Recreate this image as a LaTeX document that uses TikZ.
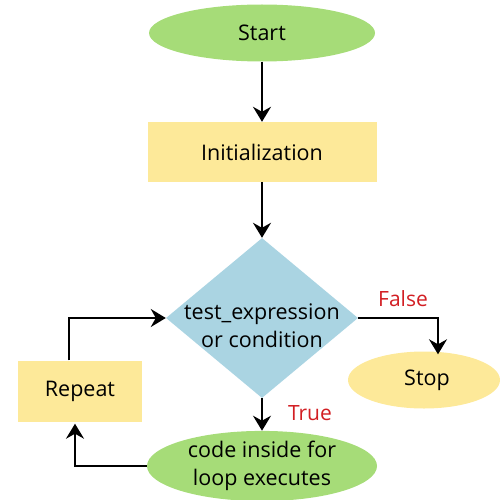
\documentclass[tikz,border=0pt]{standalone}
\usepackage{fontspec}
\setmainfont{Open Sans}
\usetikzlibrary{shapes.geometric,arrows.meta}
\definecolor{leaf}{RGB}{166,220,120}
\definecolor{sand}{RGB}{253,233,153}
\definecolor{sky}{RGB}{170,212,226}
\definecolor{lblred}{RGB}{210,30,35}
\tikzset{
  txt/.style={font=\fontsize{21.5}{28}\selectfont, align=center, text=black},
  oval/.style={ellipse, draw=none, inner sep=0pt, txt},
  boxx/.style={rectangle, draw=none, inner sep=0pt, txt},
  arr/.style={line width=2pt, -{Stealth[length=15pt,width=18pt,inset=5pt]}},
  lbl/.style={font=\fontsize{21}{24}\selectfont, text=lblred}
}
\begin{document}
\begin{tikzpicture}[x=1pt,y=-1pt]
\useasboundingbox (0,0) rectangle (500,500);
\node[oval, fill=leaf, minimum width=226pt, minimum height=57pt] (start) at (262,33) {Start};
\node[boxx, fill=sand, minimum width=229pt, minimum height=60pt] (init) at (262,152) {Initialization};
\node[diamond, fill=sky, draw=none, inner sep=0pt, minimum width=192pt, minimum height=160pt] (cond) at (262,318) {};
\node[txt] (condtxt) at (262,326) {test\_expression\\or condition};
\node[oval, fill=sand, minimum width=152pt, minimum height=57pt] (stop) at (424,380) {\hspace*{6pt}Stop};
\node[boxx, fill=sand, minimum width=124pt, minimum height=61pt] (repeat) at (80,391) {Repeat};
\node[oval, fill=leaf, minimum width=230pt, minimum height=58pt] (code) at (262,466) {code inside for\\loop executes};
\draw[arr] (start.south) -- (init.north);
\draw[arr] (init.south) -- (cond.north);
\draw[arr] (cond.south) -- (code.north);
\draw[arr] (cond.east) -| ([xshift=14pt,yshift=-3pt]stop.north);
\draw[arr] (code.west) -| ([xshift=-5pt,yshift=-2pt]repeat.south);
\draw[arr] ([xshift=-11pt]repeat.north) |- (cond.west);
\node[lbl] (flab) at (403,299) {False};
\node[lbl] (tlab) at (310,413) {True};
\end{tikzpicture}
\end{document}
